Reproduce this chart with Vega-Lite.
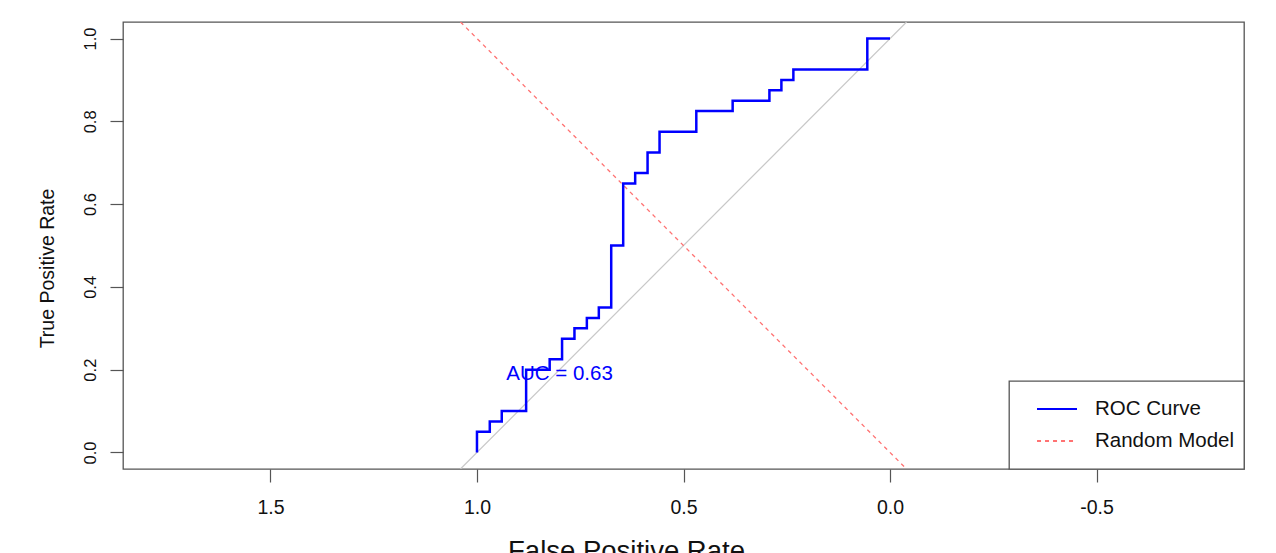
{
  "$schema": "https://vega.github.io/schema/vega-lite/v6.json",
  "width": 1121,
  "height": 447,
  "autosize": {"type": "none"},
  "padding": {"left": 123, "top": 22, "right": 32, "bottom": 84},
  "background": "white",
  "datasets": {
    "roc": [
      {"series": "ROC Curve", "i": 1, "fpr": 1.0, "tpr": 0.0},
      {"series": "ROC Curve", "i": 2, "fpr": 1.0, "tpr": 0.05},
      {"series": "ROC Curve", "i": 3, "fpr": 0.969, "tpr": 0.05},
      {"series": "ROC Curve", "i": 4, "fpr": 0.969, "tpr": 0.075},
      {"series": "ROC Curve", "i": 5, "fpr": 0.94, "tpr": 0.075},
      {"series": "ROC Curve", "i": 6, "fpr": 0.94, "tpr": 0.1},
      {"series": "ROC Curve", "i": 7, "fpr": 0.881, "tpr": 0.1},
      {"series": "ROC Curve", "i": 8, "fpr": 0.881, "tpr": 0.2},
      {"series": "ROC Curve", "i": 9, "fpr": 0.824, "tpr": 0.2},
      {"series": "ROC Curve", "i": 10, "fpr": 0.824, "tpr": 0.225},
      {"series": "ROC Curve", "i": 11, "fpr": 0.794, "tpr": 0.225},
      {"series": "ROC Curve", "i": 12, "fpr": 0.794, "tpr": 0.275},
      {"series": "ROC Curve", "i": 13, "fpr": 0.764, "tpr": 0.275},
      {"series": "ROC Curve", "i": 14, "fpr": 0.764, "tpr": 0.3},
      {"series": "ROC Curve", "i": 15, "fpr": 0.734, "tpr": 0.3},
      {"series": "ROC Curve", "i": 16, "fpr": 0.734, "tpr": 0.325},
      {"series": "ROC Curve", "i": 17, "fpr": 0.705, "tpr": 0.325},
      {"series": "ROC Curve", "i": 18, "fpr": 0.705, "tpr": 0.35},
      {"series": "ROC Curve", "i": 19, "fpr": 0.675, "tpr": 0.35},
      {"series": "ROC Curve", "i": 20, "fpr": 0.675, "tpr": 0.5},
      {"series": "ROC Curve", "i": 21, "fpr": 0.646, "tpr": 0.5},
      {"series": "ROC Curve", "i": 22, "fpr": 0.646, "tpr": 0.65},
      {"series": "ROC Curve", "i": 23, "fpr": 0.617, "tpr": 0.65},
      {"series": "ROC Curve", "i": 24, "fpr": 0.617, "tpr": 0.675},
      {"series": "ROC Curve", "i": 25, "fpr": 0.587, "tpr": 0.675},
      {"series": "ROC Curve", "i": 26, "fpr": 0.587, "tpr": 0.725},
      {"series": "ROC Curve", "i": 27, "fpr": 0.558, "tpr": 0.725},
      {"series": "ROC Curve", "i": 28, "fpr": 0.558, "tpr": 0.775},
      {"series": "ROC Curve", "i": 29, "fpr": 0.469, "tpr": 0.775},
      {"series": "ROC Curve", "i": 30, "fpr": 0.469, "tpr": 0.825},
      {"series": "ROC Curve", "i": 31, "fpr": 0.381, "tpr": 0.825},
      {"series": "ROC Curve", "i": 32, "fpr": 0.381, "tpr": 0.85},
      {"series": "ROC Curve", "i": 33, "fpr": 0.292, "tpr": 0.85},
      {"series": "ROC Curve", "i": 34, "fpr": 0.292, "tpr": 0.875},
      {"series": "ROC Curve", "i": 35, "fpr": 0.263, "tpr": 0.875},
      {"series": "ROC Curve", "i": 36, "fpr": 0.263, "tpr": 0.9},
      {"series": "ROC Curve", "i": 37, "fpr": 0.234, "tpr": 0.9},
      {"series": "ROC Curve", "i": 38, "fpr": 0.234, "tpr": 0.925},
      {"series": "ROC Curve", "i": 39, "fpr": 0.055, "tpr": 0.925},
      {"series": "ROC Curve", "i": 40, "fpr": 0.055, "tpr": 1.0},
      {"series": "ROC Curve", "i": 41, "fpr": 0.0, "tpr": 1.0}
    ],
    "random": [
      {"series": "Random Model", "i": 1, "fpr": 1.04, "tpr": 1.04},
      {"series": "Random Model", "i": 2, "fpr": -0.04, "tpr": -0.04}
    ],
    "diag": [
      {"i": 1, "fpr": 1.04, "tpr": -0.04},
      {"i": 2, "fpr": -0.04, "tpr": 1.04}
    ],
    "auc": [
      {"label": "AUC = 0.63", "fpr": 0.8, "tpr": 0.19}
    ]
  },
  "encoding": {
    "x": {
      "field": "fpr",
      "type": "quantitative",
      "scale": {"domain": [-0.857, 1.857], "reverse": true, "nice": false, "zero": false},
      "axis": {
        "title": "False Positive Rate",
        "values": [1.5, 1.0, 0.5, 0.0, -0.5],
        "format": ".1f",
        "labelExpr": "replace(datum.label, '\u2212', '-')",
        "grid": false,
        "domain": false,
        "tickSize": 13,
        "tickColor": "#555",
        "tickWidth": 1.2,
        "labelPadding": 16,
        "labelFontSize": 19.5,
        "labelFont": "Liberation Sans",
        "labelColor": "#111",
        "titleFont": "Liberation Sans",
        "titleFontSize": 27.5,
        "titleFontWeight": "normal",
        "titleColor": "#111",
        "titleX": 503,
        "titleY": 68,
        "titleAlign": "center",
        "titleBaseline": "top"
      }
    },
    "y": {
      "field": "tpr",
      "type": "quantitative",
      "scale": {"domain": [-0.04, 1.04], "nice": false, "zero": false},
      "axis": {
        "title": "True Positive Rate",
        "values": [0, 0.2, 0.4, 0.6, 0.8, 1.0],
        "format": ".1f",
        "grid": false,
        "domain": false,
        "tickSize": 13,
        "tickColor": "#555",
        "tickWidth": 1.2,
        "labelAngle": -90,
        "labelAlign": "center",
        "labelBaseline": "bottom",
        "labelPadding": 12,
        "labelFontSize": 16.5,
        "labelFont": "Liberation Sans",
        "labelColor": "#111",
        "titleFont": "Liberation Sans",
        "titleFontSize": 19.5,
        "titleFontWeight": "normal",
        "titleColor": "#111",
        "titleAngle": -90,
        "titleX": -66,
        "titleY": 246,
        "titleAlign": "center",
        "titleBaseline": "bottom"
      }
    }
  },
  "layer": [
    {
      "data": {"name": "diag"},
      "mark": {"type": "line", "color": "#c8c8c8", "strokeWidth": 1.2, "clip": true},
      "encoding": {"order": {"field": "i"}}
    },
    {
      "data": {"name": "random"},
      "mark": {"type": "line", "strokeWidth": 1.3, "clip": true},
      "encoding": {
        "order": {"field": "i"},
        "color": {"field": "series", "type": "nominal", "scale": {"domain": ["ROC Curve", "Random Model"], "range": ["#0000ff", "#ff7272"]}, "legend": {"title": " "}},
        "strokeDash": {"field": "series", "type": "nominal", "scale": {"domain": ["ROC Curve", "Random Model"], "range": [[1, 0], [4, 4]]}, "legend": {"title": " "}}
      }
    },
    {
      "data": {"name": "roc"},
      "mark": {"type": "line", "strokeWidth": 2.5, "clip": true},
      "encoding": {
        "order": {"field": "i"},
        "color": {"field": "series", "type": "nominal"},
        "strokeDash": {"field": "series", "type": "nominal"}
      }
    },
    {
      "data": {"name": "auc"},
      "mark": {"type": "text", "color": "#0000ff", "font": "Liberation Sans", "fontSize": 20.5, "align": "center", "baseline": "middle"},
      "encoding": {"text": {"field": "label"}}
    }
  ],
  "config": {
    "view": {"stroke": "#555", "strokeWidth": 1.3},
    "legend": {
      "orient": "bottom-right",
      "offset": 0,
      "strokeColor": "#555",
      "strokeWidth": 1.3,
      "fillColor": "white",
      "padding": 9,
      "titleOrient": "bottom",
      "titleFontSize": 5,
      "titlePadding": 2.5,
      "symbolType": "M-1.11,0L1.11,0",
      "symbolSize": 1296,
      "symbolStrokeWidth": 2,
      "symbolOffset": 20,
      "labelOffset": 19,
      "labelFontSize": 20.5,
      "labelFont": "Liberation Sans",
      "labelColor": "#111",
      "rowPadding": 2,
      "cornerRadius": 0
    }
  }
}
